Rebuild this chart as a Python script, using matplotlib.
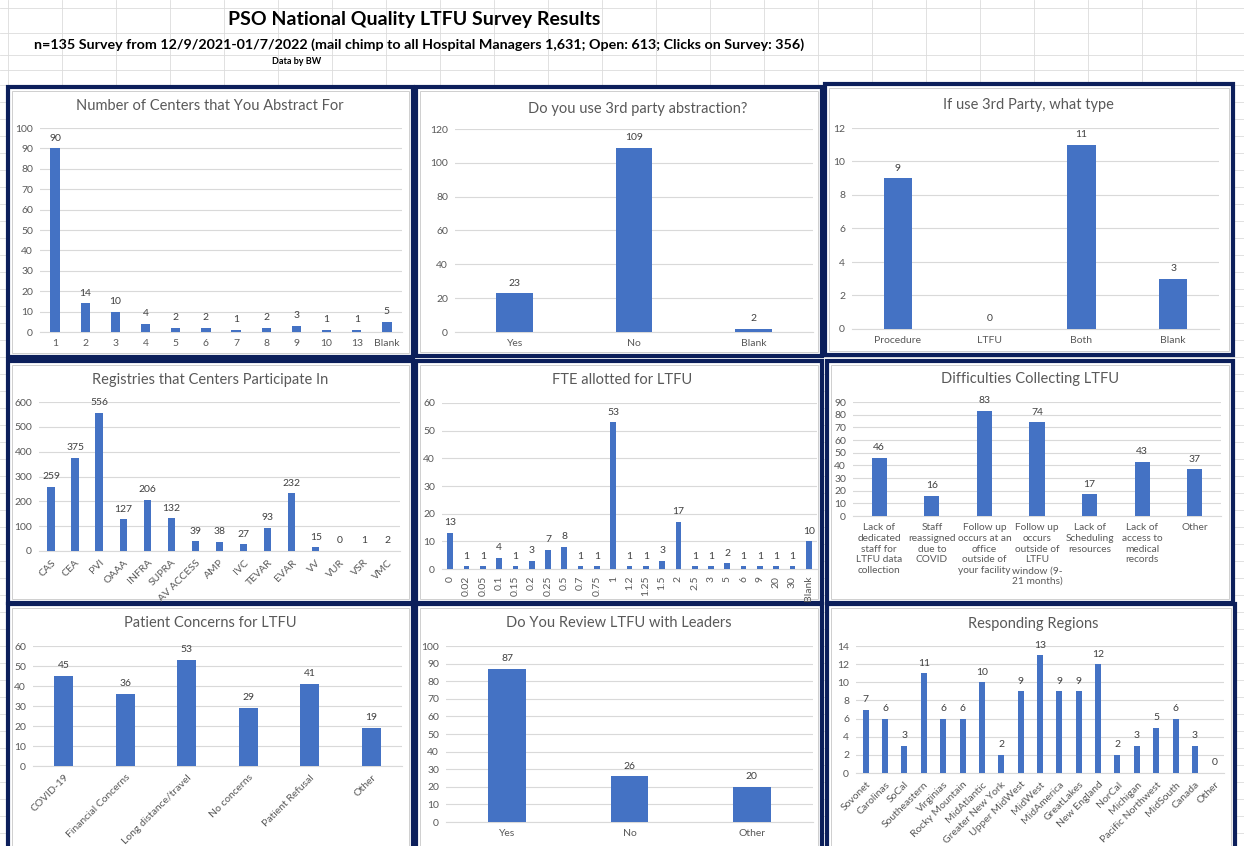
import matplotlib
matplotlib.use("Agg")
import matplotlib.pyplot as plt
from matplotlib.patches import Rectangle
from matplotlib.lines import Line2D

plt.rcParams['font.family'] = ['Lato', 'DejaVu Sans']

W, H = 1244, 846
BLUE = '#4472C4'
NAVY = '#0c1f5b'
GRAY = '#595959'

# ---- data ----
centers_cats = ['1', '2', '3', '4', '5', '6', '7', '8', '9', '10', '13', 'Blank']
centers_vals = [90, 14, 10, 4, 2, 2, 1, 2, 3, 1, 1, 5]

third_cats = ['Yes', 'No', 'Blank']
third_vals = [23, 109, 2]

type_cats = ['Procedure', 'LTFU', 'Both', 'Blank']
type_vals = [9, 0, 11, 3]

reg_cats = ['CAS', 'CEA', 'PVI', 'OAAA', 'INFRA', 'SUPRA', 'AV ACCESS', 'AMP', 'IVC',
            'TEVAR', 'EVAR', 'VV', 'VUR', 'VSR', 'VMC']
reg_vals = [259, 375, 556, 127, 206, 132, 39, 38, 27, 93, 232, 15, 0, 1, 2]

fte_cats = ['0', '0.02', '0.05', '0.1', '0.15', '0.2', '0.25', '0.5', '0.7', '0.75', '1',
            '1.2', '1.25', '1.5', '2', '2.5', '3', '5', '6', '9', '20', '30', 'Blank']
fte_vals = [13, 1, 1, 4, 1, 3, 7, 8, 1, 1, 53, 1, 1, 3, 17, 1, 1, 2, 1, 1, 1, 1, 10]

diff_cats = ['Lack of\ndedicated\nstaff for\nLTFU data\ncollection',
             'Staff\nreassigned\ndue to\nCOVID',
             'Follow up\noccurs at an\noffice\noutside of\nyour facility',
             'Follow up\noccurs\noutside of\nLTFU\nwindow (9-\n21 months)',
             'Lack of\nScheduling\nresources',
             'Lack of\naccess to\nmedical\nrecords',
             'Other']
diff_vals = [46, 16, 83, 74, 17, 43, 37]

pat_cats = ['COVID-19', 'Financial Concerns', 'Long distance/travel', 'No concerns',
            'Patient Refusal', 'Other']
pat_vals = [45, 36, 53, 29, 41, 19]

rev_cats = ['Yes', 'No', 'Other']
rev_vals = [87, 26, 20]

region_cats = ['Sovonet', 'Carolinas', 'SoCal', 'Southeastern', 'Virginias', 'Rocky Mountain',
               'MidAtlantic', 'Greater New York', 'Upper MidWest', 'MidWest', 'MidAmerica',
               'GreatLakes', 'New England', 'NorCal', 'Michigan', 'Pacific Northwest',
               'MidSouth', 'Canada', 'Other']
region_vals = [7, 6, 3, 11, 6, 6, 10, 2, 9, 13, 9, 9, 12, 2, 3, 5, 6, 3, 0]

fig = plt.figure(figsize=(W / 100, H / 100), dpi=100)
fig.patch.set_facecolor('white')


def fx(x):
    return x / W


def fy(y):
    return 1 - y / H


# spreadsheet grid behind everything
for y in [8, 33, 55, 70] + list(range(85, H, 17)):
    fig.add_artist(Line2D([0, 1], [fy(y), fy(y)], color='#dcdcdc', lw=0.6, zorder=0))
for x in range(8, W, 54):
    fig.add_artist(Line2D([fx(x), fx(x)], [fy(0), fy(85)], color='#dcdcdc', lw=0.6, zorder=0))

fig.text(fx(414), fy(20), 'PSO National Quality LTFU Survey Results', ha='center', va='center',
         fontsize=14, fontweight='bold', color='black')
fig.text(fx(419), fy(45), 'n=135 Survey from 12/9/2021-01/7/2022 (mail chimp to all Hospital Managers '
         '1,631; Open: 613; Clicks on Survey: 356)', ha='center', va='center',
         fontsize=10.3, fontweight='bold', color='black')
fig.text(fx(297), fy(62), 'Data by BW', ha='center', va='center', fontsize=6.5,
         fontweight='bold', color='black')

# panel frames
frames = [(8, 87, 413, 357), (416, 87, 822, 356), (825, 84, 1233, 355),
          (8, 361, 413, 603), (416, 361, 822, 603), (827, 361, 1233, 603),
          (8, 604, 413, 850), (416, 604, 822, 850), (827, 604, 1235, 850)]
for x0, y0, x1, y1 in frames:
    fig.add_artist(Rectangle((fx(x0), fy(y1)), fx(x1 - x0), (y1 - y0) / H,
                             facecolor='white', edgecolor=NAVY, lw=3, zorder=1))
    fig.add_artist(Rectangle((fx(x0 + 4), fy(y1 - 4)), fx(x1 - x0 - 8), (y1 - y0 - 8) / H,
                             facecolor='white', edgecolor='#cfcfcf', lw=0.7, zorder=1))


def chart(cats, vals, box, ymax, step, title, tpos, rot=0, width=0.31, fs=7.5, ls=1.2):
    x0, x1, ytop, ybot = box
    ax = fig.add_axes([fx(x0), fy(ybot), fx(x1 - x0), (ybot - ytop) / H], zorder=2)
    ax.patch.set_alpha(0)
    pos = list(range(len(cats)))
    bars = ax.bar(pos, vals, width=width, color=BLUE, zorder=3)
    for b, v in zip(bars, vals):
        ax.annotate(str(v), (b.get_x() + b.get_width() / 2, v), xytext=(0, 4),
                    textcoords='offset points', ha='center', va='bottom',
                    fontsize=7.5, color='#404040')
    ax.set_xlim(-0.5, len(cats) - 0.5)
    ax.set_ylim(0, ymax)
    ax.set_yticks(list(range(0, ymax + 1, step)))
    ax.set_xticks(pos)
    if rot == 45:
        ax.set_xticklabels(cats, rotation=45, ha='right', rotation_mode='anchor', fontsize=fs)
    elif rot == 90:
        ax.set_xticklabels(cats, rotation=90, ha='center', fontsize=fs)
    else:
        ax.set_xticklabels(cats, fontsize=fs, linespacing=ls, va='top')
    ax.tick_params(axis='y', length=0, colors=GRAY, labelsize=7.5, pad=5)
    ax.tick_params(axis='x', length=0, colors=GRAY, pad=5)
    ax.grid(axis='y', color='#d9d9d9', lw=0.8, zorder=0)
    for s in ['top', 'right', 'left']:
        ax.spines[s].set_visible(False)
    ax.spines['bottom'].set_color('#d9d9d9')
    ax.spines['bottom'].set_linewidth(0.8)
    fig.text(fx(tpos[0]), fy(tpos[1]), title, ha='center', va='center', fontsize=10.5,
             color=GRAY)
    return ax


chart(centers_cats, centers_vals, (40, 402, 128, 332), 100, 10,
      'Number of Centers that You Abstract For', (210, 106))
chart(third_cats, third_vals, (455, 813, 129, 332), 120, 20,
      'Do you use 3rd party abstraction?', (638, 109))
chart(type_cats, type_vals, (852, 1219, 128, 329), 12, 2,
      'If use 3rd Party, what type', (1028, 105))
chart(reg_cats, reg_vals, (39, 400, 402, 551), 600, 100,
      'Registries that Centers Participate In', (210, 380), rot=45)
chart(fte_cats, fte_vals, (442, 817, 403, 569), 60, 10,
      'FTE allotted for LTFU', (622, 380), rot=90, width=0.35)
chart(diff_cats, diff_vals, (853, 1221, 402, 516), 90, 10,
      'Difficulties Collecting LTFU', (1030, 379), width=0.29, fs=7.3, ls=1.26)
chart(pat_cats, pat_vals, (33, 402, 646, 766), 60, 10,
      'Patient Concerns for LTFU', (210, 623), rot=45)
chart(rev_cats, rev_vals, (446, 813, 646, 822), 100, 10,
      'Do You Review LTFU with Leaders', (619, 623))
chart(region_cats, region_vals, (856, 1224, 646, 773), 14, 2,
      'Responding Regions', (1033, 624), rot=45)

fig.savefig('out.png', dpi=100)
